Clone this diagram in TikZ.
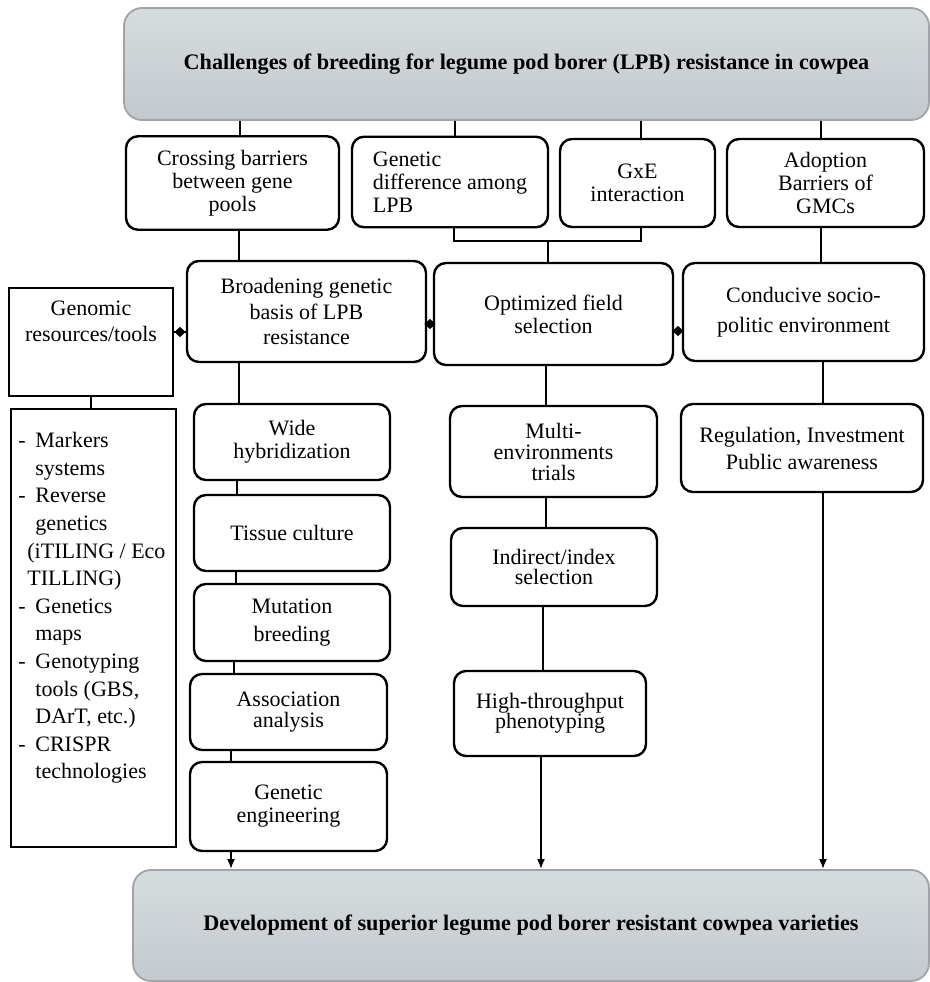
\documentclass[tikz,border=0pt]{standalone}
\usepackage{fontspec}
\setmainfont{Liberation Serif}
\usetikzlibrary{arrows.meta,shapes.geometric}
\definecolor{captop}{RGB}{214,219,222}
\definecolor{capbot}{RGB}{196,201,206}
\definecolor{capline}{RGB}{160,164,168}

\begin{document}
\begin{tikzpicture}[x=0.5pt,y=-0.5pt,
  font=\fontsize{11}{11.5}\selectfont,
  box/.style={draw,line width=1.2pt,rounded corners=6pt,align=center,inner sep=2pt},
  sqbox/.style={draw,line width=1.2pt,align=center,inner sep=2pt},
  capbox/.style={draw=capline,line width=0.9pt,rounded corners=9pt,top color=captop,bottom color=capbot,
    font=\fontsize{11.1}{11.5}\selectfont\bfseries},
  link/.style={line width=1pt},
  arr/.style={line width=1pt,-{Latex[length=5pt,width=4pt]}},
  dmark/.style={diamond,fill=black,inner sep=0pt,minimum width=6pt,minimum height=5.5pt}]

\useasboundingbox (0,0) rectangle (930,982);

% title boxes
\node[capbox,minimum width=402.5pt,minimum height=56pt] (challenge) at (526.5,64)
  {Challenges of breeding for legume pod borer (LPB) resistance in cowpea};
\node[capbox,minimum width=398pt,minimum height=55.5pt] (goal) at (531,925.5)
  {Development of superior legume pod borer resistant cowpea varieties};

% second row
\node[box,minimum width=106.5pt,minimum height=46.75pt] (cross) at (232.5,183) {Crossing barriers\\between gene\\pools};
\node[box,align=left,minimum width=98pt,minimum height=45.25pt] (gdiff) at (450,182) {Genetic\\difference among\\LPB};
\node[box,minimum width=77.5pt,minimum height=44pt] (gxe) at (637.5,183) {GxE\\interaction};
\node[box,minimum width=98.5pt,minimum height=44pt] (adopt) at (825.5,183) {Adoption\\Barriers of\\GMCs};

% third row
\node[sqbox,minimum width=82pt,minimum height=54pt,text depth=21pt] (genomic) at (91,342) {Genomic\\[1.5pt]resources/tools};
\node[box,minimum width=119.5pt,minimum height=50.5pt] (broad) at (306.5,311.5) {Broadening genetic\\[1.25pt]basis of LPB\\[1.25pt]resistance};
\node[box,minimum width=119.5pt,minimum height=51pt] (optim) at (553.5,314) {Optimized field\\selection};
\node[box,minimum width=120.5pt,minimum height=49pt] (conduc) at (803.5,312) {Conducive socio-\\[3.5pt]politic environment};

% tools list
\node[sqbox,minimum width=82.5pt,minimum height=219pt] (tools) at (93.5,628) {};
\node[anchor=north west,inner sep=0pt,align=left,font=\fontsize{11}{13.8}\selectfont] (toollist) at (18,432)
  {\makebox[8.5pt][l]{-}Markers\\
   \hspace*{8.5pt}systems\\
   \makebox[8.5pt][l]{-}Reverse\\
   \hspace*{8.5pt}genetics\\
   \hspace*{4.5pt}(iTILING / Eco\\
   \hspace*{4.5pt}TILLING)\\
   \makebox[8.5pt][l]{-}Genetics\\
   \hspace*{8.5pt}maps\\
   \makebox[8.5pt][l]{-}Genotyping\\
   \hspace*{8.5pt}tools (GBS,\\
   \hspace*{8.5pt}DArT, etc.)\\
   \makebox[8.5pt][l]{-}CRISPR\\
   \hspace*{8.5pt}technologies};

% left column
\node[box,minimum width=98pt,minimum height=38pt] (wide) at (292,442) {Wide\\hybridization};
\node[box,minimum width=98pt,minimum height=38pt] (tissue) at (292,533) {Tissue culture};
\node[box,minimum width=98pt,minimum height=38.5pt] (mutat) at (292,622.5) {Mutation\\[2.5pt]breeding};
\node[box,minimum width=98.5pt,minimum height=38pt] (assoc) at (288.5,712) {Association\\[-1pt]analysis};
\node[box,minimum width=98.5pt,minimum height=44.5pt] (geneng) at (288.5,806.5) {Genetic\\engineering};

% middle column
\node[box,minimum width=103.5pt,minimum height=45.5pt] (multi) at (553.5,451.5) {Multi-\\[-1pt]environments\\[-1pt]trials};
\node[box,minimum width=103pt,minimum height=39pt] (indir) at (554,567) {Indirect/index\\[-1.5pt]selection};
\node[box,minimum width=96pt,minimum height=42.5pt] (high) at (550,713.5) {High-throughput\\[-1.5pt]phenotyping};

% right column
\node[box,minimum width=121pt,minimum height=44pt] (regul) at (802,448) {Regulation, Investment\\[2pt]Public awareness};

% links from the challenges
\draw[link] (challenge.south -| 240,0) -- (cross.north -| 240,0);
\draw[link] (challenge.south -| 455,0) -- (gdiff.north -| 455,0);
\draw[link] (challenge.south -| 641,0) -- (gxe.north -| 641,0);
\draw[link] (challenge.south -| 821,0) -- (adopt.north -| 821,0);

\coordinate (join) at (548,241);
\draw[link] (gdiff.south -| 454,0) |- (join) -| (gxe.south -| 641,0);
\draw[link] (join) -- (join |- optim.north);
\draw[link] (cross.south -| 239,0) -- (broad.north -| 239,0);
\draw[link] (adopt.south -| 821,0) -- (conduc.north -| 821,0);

\draw[link] (genomic.east |- 0,332) -- node[dmark]{} (broad.west |- 0,332);
\draw[link] (broad.east |- 0,324) -- node[dmark]{} (optim.west |- 0,324);
\draw[link] (optim.east |- 0,331) -- node[dmark]{} (conduc.west |- 0,331);
\draw[link] (genomic.south) -- (genomic.south |- tools.north);

% columns
\draw[link] (broad.south -| 239,0) -- (wide.north -| 239,0);
\draw[link] (wide.south -| 237,0) -- (tissue.north -| 237,0);
\draw[link] (tissue.south -| 236,0) -- (mutat.north -| 236,0);
\draw[link] (mutat.south -| 234,0) -- (assoc.north -| 234,0);
\draw[link] (assoc.south -| 231,0) -- (geneng.north -| 231,0);
\draw[arr] (geneng.south -| 231,0) -- (goal.north -| 231,0);

\draw[link] (optim.south -| 546,0) -- (multi.north -| 546,0);
\draw[link] (multi.south -| 546,0) -- (indir.north -| 546,0);
\draw[link] (indir.south -| 543,0) -- (high.north -| 543,0);
\draw[arr] (high.south -| 541,0) -- (goal.north -| 541,0);

\draw[link] (conduc.south -| 823,0) -- (regul.north -| 823,0);
\draw[arr] (regul.south -| 823,0) -- (goal.north -| 823,0);

\end{tikzpicture}
\end{document}
